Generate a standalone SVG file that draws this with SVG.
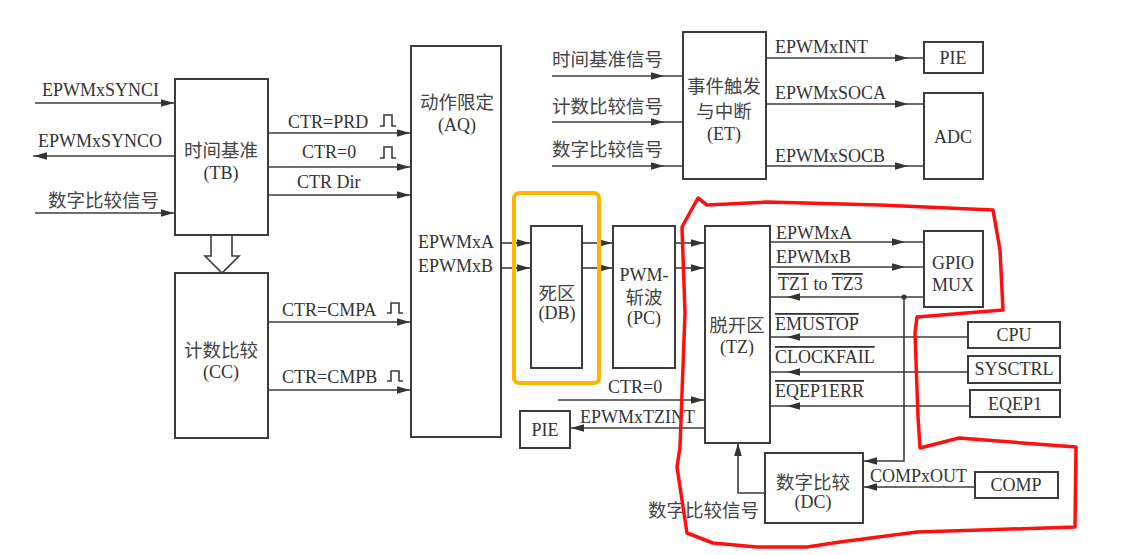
<svg xmlns="http://www.w3.org/2000/svg" width="1128" height="555" viewBox="0 0 1128 555">
<style>
.bx{fill:none;stroke:#3c3c3c;stroke-width:2}
.ln{fill:none;stroke:#3c3c3c;stroke-width:1.6}
.t{font-family:"Liberation Serif","Noto Sans CJK SC",serif;font-size:18px;fill:#333}
.c{font-family:"Noto Sans CJK SC","Liberation Serif",sans-serif;font-size:18.5px;fill:#444}
.m{text-anchor:middle}
.ol{text-decoration:overline}
</style>
<defs>
<marker id="a0" markerUnits="userSpaceOnUse" viewBox="-40 -10 50 20" markerWidth="50" markerHeight="20" refX="0" refY="0" orient="auto"><path d="M-1,0 L-14,-3.8 L-14,3.8 Z" fill="#333"/></marker>
<marker id="a16" markerUnits="userSpaceOnUse" viewBox="-40 -10 50 20" markerWidth="50" markerHeight="20" refX="0" refY="0" orient="auto"><path d="M-16,0 L-29,-3.8 L-29,3.8 Z" fill="#333"/></marker>
<marker id="a19" markerUnits="userSpaceOnUse" viewBox="-40 -10 50 20" markerWidth="50" markerHeight="20" refX="0" refY="0" orient="auto"><path d="M-19,0 L-32,-3.8 L-32,3.8 Z" fill="#333"/></marker>
</defs>
<rect width="1128" height="555" fill="#fff"/>

<g id="connectors">
<path class="ln" d="M35,103 H175" marker-end="url(#a0)"/>
<path class="ln" d="M175,156 H33" marker-end="url(#a0)"/>
<path class="ln" d="M35,213 H175" marker-end="url(#a0)"/>
<path class="ln" d="M268,133 H411" marker-end="url(#a0)"/>
<path class="ln" d="M268,167 H411" marker-end="url(#a0)"/>
<path class="ln" d="M268,195 H411" marker-end="url(#a0)"/>
<path d="M211,235 V256 H205 L222,273 L239,256 H232 V235" fill="#fff" stroke="#3c3c3c" stroke-width="1.6"/>
<path class="ln" d="M268,322 H411" marker-end="url(#a0)"/>
<path class="ln" d="M268,390 H411" marker-end="url(#a0)"/>
<path class="ln" d="M552,76 H683" marker-end="url(#a19)"/>
<path class="ln" d="M552,122 H683" marker-end="url(#a19)"/>
<path class="ln" d="M552,166 H683" marker-end="url(#a19)"/>
<path class="ln" d="M766,58 H924" marker-end="url(#a16)"/>
<path class="ln" d="M766,104 H924" marker-end="url(#a16)"/>
<path class="ln" d="M766,166 H924" marker-end="url(#a16)"/>
<path class="ln" d="M501,243 H531" marker-end="url(#a0)"/>
<path class="ln" d="M501,268 H531" marker-end="url(#a0)"/>
<path class="ln" d="M582,243 H613" marker-end="url(#a0)"/>
<path class="ln" d="M582,268 H613" marker-end="url(#a0)"/>
<path class="ln" d="M675,243 H705" marker-end="url(#a0)"/>
<path class="ln" d="M675,268 H705" marker-end="url(#a0)"/>
<path class="ln" d="M771,242 H924" marker-end="url(#a19)"/>
<path class="ln" d="M771,267 H924" marker-end="url(#a19)"/>
<path class="ln" d="M924,297 H771" marker-end="url(#a16)"/>
<circle cx="904" cy="297" r="2.6" fill="#333"/>
<path class="ln" d="M904,297 V461 H863" marker-end="url(#a0)"/>
<path class="ln" d="M968,337 H771" marker-end="url(#a16)"/>
<path class="ln" d="M968,372 H771" marker-end="url(#a16)"/>
<path class="ln" d="M970,406 H771" marker-end="url(#a16)"/>
<path class="ln" d="M558,400 H705" marker-end="url(#a0)"/>
<path class="ln" d="M705,428 H570" marker-end="url(#a0)"/>
<path class="ln" d="M765,493 H738 V442" marker-end="url(#a0)"/>
<path class="ln" d="M975,487 H863" marker-end="url(#a0)"/>
<path class="ln" stroke-width="2" d="M380,126 h4 v-11 h8 v11 h4"/>
<path class="ln" stroke-width="2" d="M380,158 h4 v-11 h8 v11 h4"/>
<path class="ln" stroke-width="2" d="M387,313 h4 v-10 h8 v10 h4"/>
<path class="ln" stroke-width="2" d="M387,381 h4 v-10 h8 v10 h4"/>
</g>

<g id="labels">
<text class="t" x="42" y="96">EPWMxSYNCI</text>
<text class="t" x="38" y="147">EPWMxSYNCO</text>
<text class="c" x="48" y="207">数字比较信号</text>
<text class="t" x="288" y="128">CTR=PRD</text>
<text class="t" x="302" y="158">CTR=0</text>
<text class="t" x="297" y="188">CTR Dir</text>
<text class="t" x="282" y="316">CTR=CMPA</text>
<text class="t" x="282" y="383">CTR=CMPB</text>
<text class="c" x="552" y="66">时间基准信号</text>
<text class="c" x="552" y="113">计数比较信号</text>
<text class="c" x="552" y="156">数字比较信号</text>
<text class="t" x="775" y="53">EPWMxINT</text>
<text class="t" x="775" y="99">EPWMxSOCA</text>
<text class="t" x="775" y="162">EPWMxSOCB</text>
<text class="t" x="776" y="239">EPWMxA</text>
<text class="t" x="776" y="263">EPWMxB</text>
<text class="t" x="778" y="290"><tspan class="ol">TZ1</tspan> to <tspan class="ol">TZ3</tspan></text>
<text class="t ol" x="775" y="330">EMUSTOP</text>
<text class="t ol" x="775" y="363">CLOCKFAIL</text>
<text class="t ol" x="775" y="397">EQEP1ERR</text>
<text class="t" x="608" y="393">CTR=0</text>
<text class="t" x="580" y="423">EPWMxTZINT</text>
<text class="t" x="870" y="482">COMPxOUT</text>
<text class="c" x="648" y="517">数字比较信号</text>
</g>

<g id="TB"><rect class="bx" x="175" y="79" width="93" height="156"/><text class="c m" x="221" y="157">时间基准</text><text class="t m" x="221" y="179">(TB)</text></g>
<g id="CC"><rect class="bx" x="175" y="273" width="93" height="165"/><text class="c m" x="221" y="357">计数比较</text><text class="t m" x="221" y="378">(CC)</text></g>
<g id="AQ"><rect class="bx" x="411" y="46" width="90" height="391"/><text class="c m" x="457" y="109">动作限定</text><text class="t m" x="457" y="131">(AQ)</text><text class="t" x="418" y="248">EPWMxA</text><text class="t" x="418" y="272">EPWMxB</text></g>
<g id="ET"><rect class="bx" x="683" y="32" width="83" height="147"/><text class="c m" x="724" y="93" font-size="17">事件触发</text><text class="c m" x="724" y="118" font-size="17">与中断</text><text class="t m" x="724" y="140">(ET)</text></g>
<g id="PIE1"><rect class="bx" x="924" y="42" width="59" height="31"/><text class="t m" x="953" y="64">PIE</text></g>
<g id="ADC"><rect class="bx" x="924" y="93" width="59" height="86"/><text class="t m" x="953" y="143">ADC</text></g>
<g id="DBframe"><rect x="514" y="193" width="85" height="190" rx="5" fill="none" stroke="#FFB400" stroke-width="4"/></g>
<g id="DB"><rect class="bx" x="531" y="226" width="51" height="142"/><text class="c m" x="557" y="300">死区</text><text class="t m" x="557" y="319">(DB)</text></g>
<g id="PC"><rect class="bx" x="613" y="226" width="62" height="142"/><text class="t m" x="644" y="281">PWM-</text><text class="c m" x="644" y="304">斩波</text><text class="t m" x="644" y="324">(PC)</text></g>
<g id="TZ"><rect class="bx" x="705" y="226" width="65" height="217"/><text class="c m" x="737" y="332">脱开区</text><text class="t m" x="737" y="353">(TZ)</text></g>
<g id="GPIO"><rect class="bx" x="924" y="231" width="59" height="76"/><text class="t m" x="953" y="269">GPIO</text><text class="t m" x="953" y="291">MUX</text></g>
<g id="CPU"><rect class="bx" x="968" y="322" width="92" height="26"/><text class="t m" x="1014" y="341">CPU</text></g>
<g id="SYSCTRL"><rect class="bx" x="968" y="356" width="92" height="27"/><text class="t m" x="1014" y="375">SYSCTRL</text></g>
<g id="EQEP1"><rect class="bx" x="970" y="390" width="90" height="27"/><text class="t m" x="1015" y="410">EQEP1</text></g>
<g id="PIE2"><rect class="bx" x="520" y="411" width="50" height="37"/><text class="t m" x="545" y="436">PIE</text></g>
<g id="DC"><rect class="bx" x="765" y="453" width="98" height="70"/><text class="c m" x="813" y="489">数字比较</text><text class="t m" x="813" y="508">(DC)</text></g>
<g id="COMP"><rect class="bx" x="975" y="472" width="83" height="26"/><text class="t m" x="1016" y="491">COMP</text></g>

<g id="redOutline"><path d="M698,198 L707,205 L767,202 L880,205 L993,210 L1000,250 L1003,310 L917,317 L915,333 L918,417 L920,448 L959,438 L1076,447 L1075,527 L981,530 L917,532 L840,542 L807,547 L757,547 L713,543 L687,533 L677,467 L680,447 L685,313 L682,227 Z" fill="none" stroke="#FF1010" stroke-width="3.5" stroke-linejoin="round"/></g>
</svg>
